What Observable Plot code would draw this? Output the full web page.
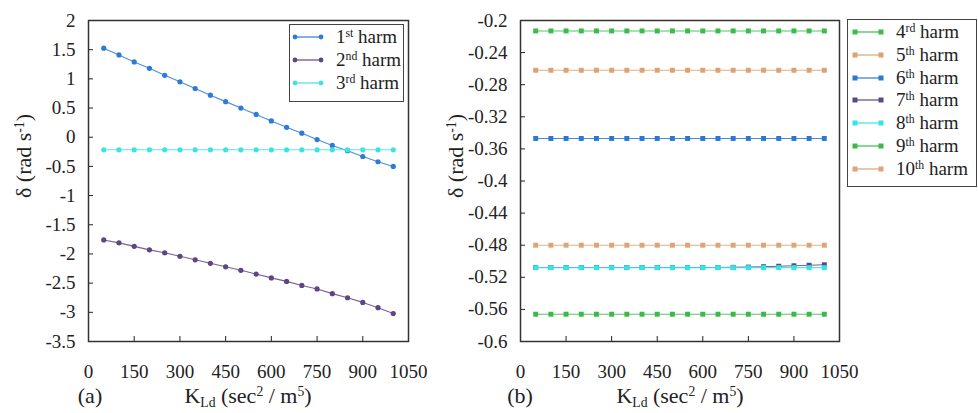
<!DOCTYPE html>
<html><head><meta charset="utf-8">
<script src="https://cdn.jsdelivr.net/npm/d3@7"></script>
<script src="https://cdn.jsdelivr.net/npm/@observablehq/plot@0.6"></script>
<style>
body{margin:0;background:#fff;}
#wrap{position:relative;width:978px;height:413px;overflow:hidden;font-family:"Liberation Serif","Tinos","Times New Roman","DejaVu Serif",serif;color:#222;}
#wrap svg{position:absolute;top:0;}
.abs{position:absolute;white-space:nowrap;font-size:22px;line-height:1;}
.ylab{transform:translate(-50%,-50%) rotate(-90deg);}
.xlab{transform:translate(-50%,-50%);}
sup{font-size:0.62em;vertical-align:0.55em;line-height:0;}
sub{font-size:0.62em;vertical-align:-0.3em;line-height:0;}
.legend{position:absolute;border:1.5px solid #444;background:#fff;box-sizing:border-box;}
.row{position:absolute;left:0;height:22px;display:flex;align-items:center;font-size:19px;white-space:nowrap;}
.row svg{position:static !important;margin-right:12px;}
</style></head>
<body><div id="wrap"></div>
<script>
// ---------- data ----------
const kLd = [50,100,150,200,250,300,350,400,450,500,550,600,650,700,750,800,850,900,950,1000];
const xTicks = [0,150,300,450,600,750,900,1050];
const yTicksA = [2,1.5,1,0.5,0,-0.5,-1,-1.5,-2,-2.5,-3,-3.5];
const yTicksB = [-0.2,-0.24,-0.28,-0.32,-0.36,-0.4,-0.44,-0.48,-0.52,-0.56,-0.6];

const harm1 = [1.525,1.41,1.29,1.18,1.06,0.95,0.835,0.72,0.61,0.50,0.39,0.28,0.17,0.07,-0.04,-0.14,-0.23,-0.33,-0.42,-0.50];
const harm2 = [-1.76,-1.81,-1.87,-1.93,-1.98,-2.04,-2.10,-2.16,-2.22,-2.28,-2.345,-2.41,-2.47,-2.54,-2.60,-2.68,-2.75,-2.83,-2.92,-3.02];
const harm3 = [-0.215,-0.215,-0.215,-0.215,-0.215,-0.215,-0.215,-0.215,-0.215,-0.215,-0.215,-0.215,-0.215,-0.215,-0.215,-0.215,-0.215,-0.215,-0.215,-0.215];

const harm4 = [-0.213,-0.213,-0.213,-0.213,-0.213,-0.213,-0.213,-0.213,-0.213,-0.213,-0.213,-0.213,-0.213,-0.213,-0.213,-0.213,-0.213,-0.213,-0.213,-0.213];
const harm5 = [-0.262,-0.262,-0.262,-0.262,-0.262,-0.262,-0.262,-0.262,-0.262,-0.262,-0.262,-0.262,-0.262,-0.262,-0.262,-0.262,-0.262,-0.262,-0.262,-0.262];
const harm6 = [-0.347,-0.347,-0.347,-0.347,-0.347,-0.347,-0.347,-0.347,-0.347,-0.347,-0.347,-0.347,-0.347,-0.347,-0.347,-0.347,-0.347,-0.347,-0.347,-0.347];
const harm7 = [-0.5078,-0.5078,-0.5078,-0.5078,-0.5078,-0.5078,-0.5078,-0.5078,-0.5078,-0.5078,-0.5078,-0.5078,-0.5078,-0.5076,-0.5073,-0.5068,-0.5062,-0.5056,-0.505,-0.5044];
const harm8 = [-0.508,-0.508,-0.508,-0.508,-0.508,-0.508,-0.508,-0.508,-0.508,-0.508,-0.508,-0.508,-0.508,-0.508,-0.508,-0.508,-0.508,-0.508,-0.508,-0.508];
const harm9 = [-0.566,-0.566,-0.566,-0.566,-0.566,-0.566,-0.566,-0.566,-0.566,-0.566,-0.566,-0.566,-0.566,-0.566,-0.566,-0.566,-0.566,-0.566,-0.566,-0.566];
const harm10 = [-0.48,-0.48,-0.48,-0.48,-0.48,-0.48,-0.48,-0.48,-0.48,-0.48,-0.48,-0.48,-0.48,-0.48,-0.48,-0.48,-0.48,-0.48,-0.48,-0.48];

const seriesA = [
  {num:"1", sup:"st", values:harm1, color:"#2c7bd6"},
  {num:"2", sup:"nd", values:harm2, color:"#5e4585"},
  {num:"3", sup:"rd", values:harm3, color:"#3ee2e4"}
];
const seriesB = [
  {num:"4", sup:"rd", values:harm4, color:"#3cba4b"},
  {num:"5", sup:"th", values:harm5, color:"#dba273"},
  {num:"6", sup:"th", values:harm6, color:"#2a78d4"},
  {num:"7", sup:"th", values:harm7, color:"#5c4785"},
  {num:"8", sup:"th", values:harm8, color:"#33e4e8"},
  {num:"9", sup:"th", values:harm9, color:"#3cba49"},
  {num:"10", sup:"th", values:harm10, color:"#dca477"}
];

const FONT = '"Liberation Serif","Tinos","Times New Roman","DejaVu Serif",serif';
const fmt = d => String(+d.toFixed(2));

function panel({series, domain, ticks, width, ml, mr, symbol, r}) {
  const marks = [];
  for (const s of series) {
    const rows = kLd.map((x, i) => ({x, y: s.values[i]}));
    marks.push(Plot.line(rows, {x:"x", y:"y", stroke:s.color, strokeWidth:1.1, strokeOpacity:0.85}));
    marks.push(Plot.dot(rows, {x:"x", y:"y", fill:s.color, r, symbol, stroke:"none"}));
  }
  marks.push(Plot.frame({stroke:"#333", strokeWidth:1.5}));
  return Plot.plot({
    width, height:413, marginLeft:ml, marginRight:mr, marginTop:20, marginBottom:72,
    style:{fontFamily:FONT, fontSize:"19px", color:"#222", background:"transparent", overflow:"visible"},
    x:{domain:[0,1050], ticks:xTicks, tickFormat:fmt, tickSize:-5, tickPadding:28, label:null},
    y:{domain, ticks, tickFormat:fmt, tickSize:-5, tickPadding:18, label:null},
    marks
  });
}

const wrap = document.getElementById("wrap");
const pA = panel({series:seriesA, domain:[-3.5,2], ticks:yTicksA, width:430, ml:88, mr:22, symbol:"circle", r:2.6});
pA.style.left = "0px";
wrap.appendChild(pA);
const pB = panel({series:seriesB, domain:[-0.6,-0.2], ticks:yTicksB, width:548, ml:90, mr:139, symbol:"square", r:2.8});
pB.style.left = "430px";
wrap.appendChild(pB);

function addText(html, x, y, cls) {
  const d = document.createElement("div");
  d.className = "abs " + cls;
  d.style.left = x + "px"; d.style.top = y + "px";
  d.innerHTML = html;
  wrap.appendChild(d);
}
const yLabel = "δ (rad s<sup>-1</sup>)";
const xLabel = "K<sub>Ld</sub> (sec<sup>2</sup> / m<sup>5</sup>)";
addText(yLabel, 24, 156, "ylab");
addText(yLabel, 456, 156, "ylab");
addText(xLabel, 248, 396, "xlab");
addText(xLabel, 680, 396, "xlab");
addText("(a)", 90, 396, "xlab");
addText("(b)", 520, 396, "xlab");

function legend(series, box, rowTop, step, sampleLeft, symbol) {
  const L = document.createElement("div");
  L.className = "legend";
  Object.assign(L.style, {left:box[0]+"px", top:box[1]+"px", width:box[2]+"px", height:box[3]+"px"});
  series.forEach((s, i) => {
    const row = document.createElement("div");
    row.className = "row";
    row.style.top = (rowTop + i*step - 11) + "px";
    row.style.left = sampleLeft + "px";
    const mk = symbol === "circle"
      ? (cx) => `<circle cx="${cx}" cy="5" r="2.4" fill="${s.color}"/>`
      : (cx) => `<rect x="${cx-2.5}" y="2.5" width="5" height="5" fill="${s.color}"/>`;
    row.innerHTML = `<svg width="32" height="10"><line x1="3" x2="29" y1="5" y2="5" stroke="${s.color}" stroke-width="1.2"/>${mk(3)}${mk(29)}</svg><span>${s.num}<sup>${s.sup}</sup> harm</span>`;
    L.appendChild(row);
  });
  wrap.appendChild(L);
}
legend(seriesA, [289, 24, 115, 78], 12, 23, 2, "circle");
legend(seriesB, [847, 19, 130, 168], 12, 22.8, 4, "square");
</script>
</body></html>
